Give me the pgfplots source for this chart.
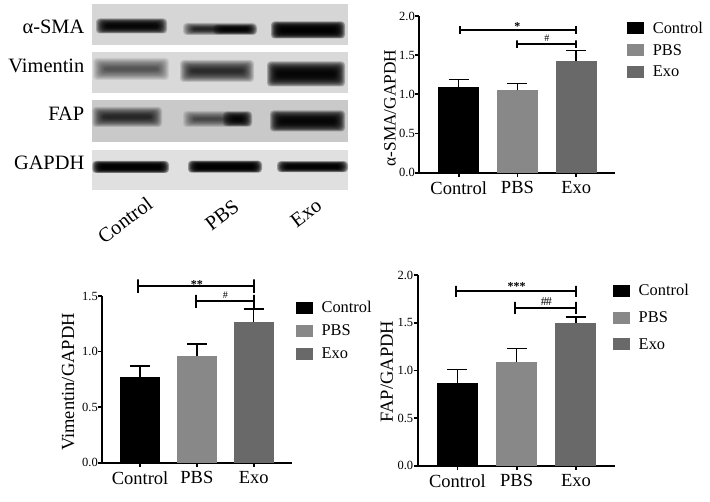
\documentclass[border=0pt]{standalone}
\usepackage{fontspec}
\setmainfont{Liberation Serif}
\usepackage{pgfplots}
\pgfplotsset{compat=1.18}

\definecolor{pbsgray}{RGB}{136,136,136}
\definecolor{exogray}{RGB}{105,105,105}

\pgfplotsset{
  panel/.style={
    scale only axis,
    axis lines*=left,
    axis line style={line width=2pt,-},
    tick style={black,line width=1.7pt},
    tick align=outside,
    major tick length=4pt,
    clip=false,
    ymin=0,
    xtick={0,1,2},
    xticklabels={Control,PBS,Exo},
    x tick label style={font=\fontsize{18.5}{20}\selectfont,yshift=-1pt},
    y tick label style={font=\fontsize{12.5}{14}\selectfont,xshift=3pt},
    /pgf/number format/assume math mode=true,
    /pgf/number format/fixed,
    /pgf/number format/fixed zerofill,
    /pgf/number format/precision=1,
    ylabel style={font=\fontsize{18.5}{20}\selectfont,anchor=center},
    legend style={draw=none,fill=none,anchor=north west,inner sep=0pt,
      font=\fontsize{16.4}{18}\selectfont,column sep=9pt,
      nodes={inner sep=0pt,anchor=west}},
    legend cell align={left},
    legend image code/.code={\fill[##1] (0pt,-6pt) rectangle (16.5pt,6pt);},
  },
  sbar/.style={ybar,bar width=#1,bar shift=0pt,draw=none,
    error bars/y dir=plus,error bars/y explicit,
    error bars/error bar style={black,line width=1.5pt},
    error bars/error mark options={black,rotate=90,mark size=10pt,line width=1.5pt}},
  bracket/.style={black,line width=2pt,forget plot,no markers,sharp plot},
}

% blurred band on a blot, x1 x2 yc h opacity
\newcommand{\band}[5]{%
  \foreach \i in {0,...,11}{%
    \pgfmathsetmacro{\xa}{#1+\i*1.0}
    \pgfmathsetmacro{\xb}{#2-\i*1.0}
    \pgfmathsetmacro{\ya}{#3-#4/2+\i*#4/26}
    \pgfmathsetmacro{\yb}{#3+#4/2-\i*#4/26}
    \fill[black,opacity=#5,rounded corners=3.5pt] (\xa,\ya) rectangle (\xb,\yb);
  }%
}

\begin{document}
\begin{tikzpicture}
\useasboundingbox (0,0) rectangle (710pt,502pt);

\begin{scope}[x=1pt,y=-1pt,shift={(0,-502)}]
  \fill[gray!32] (92.3,4) rectangle (348,45);
  \fill[gray!30] (92.3,51.7) rectangle (348,93.3);
  \fill[gray!42] (92.3,100) rectangle (348,141.7);
  \fill[gray!24] (92.3,150) rectangle (348,190);
  % alpha-SMA
  \band{96}{167}{26}{15}{0.24}
  \band{183}{257}{29}{12}{0.13}
  \band{213}{257}{29.5}{10}{0.14}
  \band{271}{345}{30}{17}{0.3}
  % Vimentin
  \band{93}{169}{69}{22}{0.07}
  \band{180}{254}{71}{22}{0.12}
  \band{267}{345}{74}{25}{0.24}
  % FAP
  \band{92.3}{162}{117}{20}{0.12}
  \band{183}{252}{119}{16}{0.08}
  \band{223}{252}{119}{15}{0.18}
  \band{270}{345}{121}{21}{0.24}
  % GAPDH
  \band{92.3}{169}{167}{12}{0.33}
  \band{188}{262}{166.7}{12}{0.33}
  \band{277}{348}{166.7}{11}{0.29}

  \begin{scope}[every node/.style={font=\fontsize{20.4}{22}\selectfont,inner sep=0pt}]
    \node[anchor=east] at (84.5,27) {α-SMA};
    \node[anchor=east] at (84.5,66) {Vimentin};
    \node[anchor=east] at (84.5,114) {FAP};
    \node[anchor=east] at (84.5,163) {GAPDH};
    \node[rotate=37] at (125,220) {Control};
    \node[rotate=37] at (222,215) {PBS};
    \node[rotate=37] at (306,213) {Exo};
  \end{scope}
\end{scope}

% alpha-SMA / GAPDH
\begin{axis}[panel,at={(419.3pt,329.3pt)},anchor=south west,
  width=195.7pt,height=156.7pt,
  xmin=-0.67,xmax=2.66,ymax=2,ytick={0,0.5,1,1.5,2},
  ylabel={α-SMA/GAPDH},
  ylabel style={font=\fontsize{17.3}{19}\selectfont,at={(axis description cs:-0.15,0.413)}},
  legend style={row sep=9.6pt,at={(axis description cs:1.062,0.965)}}]
  \addplot[sbar=41pt,fill=black] coordinates {(0,1.09) +- (0,0.10)};
  \addlegendentry{Control}
  \addplot[sbar=41pt,fill=pbsgray] coordinates {(1,1.05) +- (0,0.09)};
  \addlegendentry{PBS}
  \addplot[sbar=41pt,fill=exogray] coordinates {(2,1.42) +- (0,0.14)};
  \addlegendentry{Exo}
  \addplot[bracket] coordinates {(0.02,1.77) (0.02,1.87) (0.02,1.82) (2,1.82) (2,1.87) (2,1.77)};
  \addplot[bracket] coordinates {(1,1.59) (1,1.69) (1,1.64) (2,1.64) (2,1.69) (2,1.59)};
  \node[font=\fontsize{12}{12}\selectfont\bfseries] at (axis cs:1,1.86) {*};
  \node[font=\fontsize{10}{10}\selectfont] at (axis cs:1.5,1.71) {\#};
\end{axis}

% Vimentin / GAPDH
\begin{axis}[panel,at={(102.3pt,39.3pt)},anchor=south west,
  width=189.4pt,height=166.7pt,
  xmin=-0.665,xmax=2.67,ymax=1.5,ytick={0,0.5,1,1.5},
  ylabel={Vimentin/GAPDH},
  ylabel style={at={(axis description cs:-0.18,0.484)}},
  legend style={row sep=10.8pt,at={(axis description cs:1.022,0.97)}}]
  \addplot[sbar=40pt,fill=black] coordinates {(0,0.775) +- (0,0.095)};
  \addlegendentry{Control}
  \addplot[sbar=40pt,fill=pbsgray] coordinates {(1,0.96) +- (0,0.11)};
  \addlegendentry{PBS}
  \addplot[sbar=40pt,fill=exogray] coordinates {(2,1.27) +- (0,0.115)};
  \addlegendentry{Exo}
  \addplot[bracket] coordinates {(-0.03,1.53) (-0.03,1.65) (-0.03,1.59) (2,1.59) (2,1.65) (2,1.53)};
  \addplot[bracket] coordinates {(0.98,1.39) (0.98,1.51) (0.98,1.452) (2,1.452) (2,1.51) (2,1.39)};
  \node[font=\fontsize{12}{12}\selectfont\bfseries] at (axis cs:1,1.605) {**};
  \node[font=\fontsize{10}{10}\selectfont] at (axis cs:1.5,1.51) {\#};
\end{axis}

% FAP / GAPDH
\begin{axis}[panel,at={(417.7pt,36.3pt)},anchor=south west,
  width=197.3pt,height=190.4pt,
  xmin=-0.67,xmax=2.66,ymax=2,ytick={0,0.5,1,1.5,2},
  ylabel={FAP/GAPDH},
  ylabel style={at={(axis description cs:-0.157,0.494)}},
  legend style={row sep=14.5pt,at={(axis description cs:0.99,0.955)}}]
  \addplot[sbar=41pt,fill=black] coordinates {(0,0.87) +- (0,0.14)};
  \addlegendentry{Control}
  \addplot[sbar=41pt,fill=pbsgray] coordinates {(1,1.09) +- (0,0.14)};
  \addlegendentry{PBS}
  \addplot[sbar=41pt,fill=exogray] coordinates {(2,1.5) +- (0,0.06)};
  \addlegendentry{Exo}
  \addplot[bracket] coordinates {(-0.02,1.77) (-0.02,1.89) (-0.02,1.83) (2,1.83) (2,1.89) (2,1.77)};
  \addplot[bracket] coordinates {(0.98,1.59) (0.98,1.72) (0.98,1.653) (2,1.653) (2,1.72) (2,1.59)};
  \node[font=\fontsize{12}{12}\selectfont\bfseries] at (axis cs:1,1.88) {***};
  \node[font=\fontsize{12}{12}\selectfont] at (axis cs:1.5,1.72) {\#\kern-1pt\#};
\end{axis}
\end{tikzpicture}
\end{document}
